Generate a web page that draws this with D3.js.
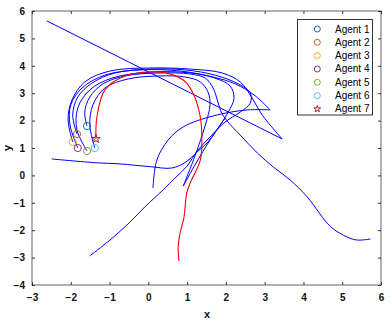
<!DOCTYPE html>
<html><head><meta charset="utf-8">
<script src="https://cdn.jsdelivr.net/npm/d3@7"></script>
<style>
html,body{margin:0;padding:0;background:#fff;}
svg{display:block;font-family:"Liberation Sans",Arial,sans-serif;}
</style></head>
<body><svg id="c" width="392" height="325"></svg>
<script>
// ---- data (x, y in data units) ----
const agentNames = ["Agent 1","Agent 2","Agent 3","Agent 4","Agent 5","Agent 6","Agent 7"];
const markerColors = ["#0072BD","#D95319","#EDB120","#7E2F8E","#77AC30","#4DBEEE","#A2142F"];
const xTicks = [-3,-2,-1,0,1,2,3,4,5,6];
const yTicks = [-4,-3,-2,-1,0,1,2,3,4,5,6];

// start positions (markers)
const startX = [-1.58,-1.84,-1.95,-1.82,-1.58,-1.38,-1.35];
const startY = [ 1.80, 1.51, 1.22, 1.00, 0.89, 1.00, 1.33];

// trajectories: arrays of segments (split at sharp turns), each [x,y]
const traj1 = [[[-1.58,1.80],[-1.64,2.31],[-1.51,2.86],[-1.17,3.34],[-0.60,3.63],[0.30,3.74],[1.08,3.70],[1.47,3.55],[1.67,3.19],[1.78,2.75],[1.88,2.31],[2.03,1.99],[2.37,1.47],[2.81,0.82],[3.22,0.31],[3.66,-0.17],[4.10,-0.79],[4.70,-1.87],[5.13,-2.25],[5.39,-2.36],[5.73,-2.32]]];
const traj2 = [[[-1.84,1.51],[-1.95,2.20],[-1.82,2.86],[-1.45,3.37],[-0.86,3.74],[0.04,3.88],[0.95,3.85],[1.72,3.66],[2.32,3.34],[2.63,3.01],[2.63,2.64],[2.37,2.31],[1.98,1.95],[1.59,1.40],[1.26,0.89],[1.00,0.34],[0.69,-0.09],[0.38,-0.53],[-0.09,-1.15],[-0.47,-1.70],[-0.99,-2.36],[-1.51,-2.94]]];
const traj3 = [[[-1.95,1.22],[-2.07,2.02],[-1.97,2.75],[-1.64,3.41],[-0.99,3.81],[0.04,3.92],[1.08,3.88],[1.90,3.74],[2.37,3.41],[2.63,2.93],[2.94,2.20],[3.45,1.33]],
               [[3.45,1.33],[-2.62,5.64]]];
const traj4 = [[[-1.82,1.00],[-2.02,1.84],[-2.00,2.57],[-1.71,3.19],[-1.12,3.66],[-0.21,3.85],[0.82,3.81],[1.67,3.59],[2.24,3.34],[2.76,2.90],[3.14,2.39]],
               [[3.14,2.39],[2.55,2.39],[1.67,2.17],[0.90,1.77],[0.51,1.29],[0.22,0.56],[0.12,-0.46]]];
const traj5 = [[[-1.58,0.89],[-1.84,1.66],[-1.82,2.46],[-1.51,3.12],[-0.94,3.55],[0.04,3.77],[1.08,3.74],[1.72,3.55],[2.11,3.26],[2.21,2.82],[2.06,2.31],[1.80,1.73],[1.54,1.22],[1.23,0.82],[0.97,0.49],[0.61,0.27],[0.04,0.32],[-0.73,0.42],[-1.33,0.46],[-2.49,0.60]]];
const traj6 = [[[-1.38,1.00],[-1.51,1.84],[-1.43,2.57],[-1.12,3.19],[-0.52,3.52],[0.30,3.63],[0.95,3.59],[1.34,3.41],[1.54,3.04],[1.59,2.57],[1.47,1.84],[1.21,0.74],[0.90,-0.39]],
               [[0.90,-0.39],[1.23,0.45],[1.59,1.29],[1.98,2.09]]];
const traj7 = [[[-1.35,1.33],[-1.33,2.09],[-1.12,3.12],[-0.60,3.63],[0.30,3.77],[0.90,3.48],[1.15,3.01],[1.34,2.13],[1.38,1.18],[1.34,0.56],[1.08,-0.28],[0.99,-0.64],[0.92,-1.52],[0.82,-2.10],[0.77,-2.61],[0.79,-3.12]]];
const blueTrajs = [traj1,traj2,traj3,traj4,traj5,traj6];
const redTrajs = [traj7];

// ---- drawing ----
const svg = d3.select("#c");
const L=32, R=381, T=11, B=285;
const x = d3.scaleLinear().domain([-3,6]).range([L,R]);
const y = d3.scaleLinear().domain([-4,6]).range([B,T]);

const line = d3.line().x(d=>x(d[0])).y(d=>y(d[1])).curve(d3.curveCatmullRom.alpha(0.5));
const straight = d3.line().x(d=>x(d[0])).y(d=>y(d[1]));

const gPlot = svg.append("g");
blueTrajs.forEach(t=>t.forEach(seg=>{
  gPlot.append("path").attr("d",(seg.length>2?line:straight)(seg))
    .attr("fill","none").attr("stroke","#0000FF").attr("stroke-width",1);
}));
redTrajs.forEach(t=>t.forEach(seg=>{
  gPlot.append("path").attr("d",line(seg))
    .attr("fill","none").attr("stroke","#FF0000").attr("stroke-width",1.1);
}));

// markers
const star = d3.symbol().type(d3.symbolStar);
startX.forEach((sx,i)=>{
  if(i<6){
    gPlot.append("circle").attr("cx",x(sx)).attr("cy",y(startY[i])).attr("r",3.6)
      .attr("fill","none").attr("stroke",markerColors[i]).attr("stroke-width",1);
  } else {
    gPlot.append("path").attr("d",star.size(22)())
      .attr("transform",`translate(${x(sx)},${y(startY[i])})`)
      .attr("fill","none").attr("stroke",markerColors[i]).attr("stroke-width",1);
  }
});

// axes box and ticks
const axCol="#7f7f7f";
svg.append("rect").attr("x",L).attr("y",T).attr("width",R-L).attr("height",B-T)
  .attr("fill","none").attr("stroke",axCol).attr("stroke-width",1.2);
const gx = svg.append("g").attr("transform",`translate(0,${B})`)
  .call(d3.axisBottom(x).tickValues(xTicks).tickSizeInner(-3).tickSizeOuter(0).tickPadding(9));
const gxt = svg.append("g").attr("transform",`translate(0,${T})`)
  .call(d3.axisTop(x).tickValues(xTicks).tickSizeInner(-3).tickSizeOuter(0).tickFormat(""));
const gy = svg.append("g").attr("transform",`translate(${L},0)`)
  .call(d3.axisLeft(y).tickValues(yTicks).tickSizeInner(-3).tickSizeOuter(0).tickPadding(7));
const gyr = svg.append("g").attr("transform",`translate(${R},0)`)
  .call(d3.axisRight(y).tickValues(yTicks).tickSizeInner(-3).tickSizeOuter(0).tickFormat(""));
[gx,gxt,gy,gyr].forEach(g=>{
  g.select(".domain").remove();
  g.selectAll(".tick line").attr("stroke","#333");
  g.selectAll("text").attr("fill","#111").style("font-size","10px").style("font-weight","bold")
    .style("font-family","'Liberation Sans',Arial,sans-serif");
});

// axis labels
svg.append("text").attr("x",(L+R)/2+0.5).attr("y",318).attr("text-anchor","middle")
  .style("font-size","11px").style("font-weight","bold").attr("fill","#111").text("x");
svg.append("text").attr("transform",`translate(11,${(T+B)/2}) rotate(-90)`).attr("text-anchor","middle")
  .style("font-size","11px").style("font-weight","bold").attr("fill","#111").text("y");

// legend
const lg = svg.append("g");
lg.append("rect").attr("x",297.5).attr("y",19.5).attr("width",75).attr("height",95.5)
  .attr("fill","#fff").attr("stroke","#333").attr("stroke-width",1);
agentNames.forEach((n,i)=>{
  const cy = 29 + i*13.33;
  if(i<6){
    lg.append("circle").attr("cx",317.3).attr("cy",cy).attr("r",3)
      .attr("fill","none").attr("stroke",markerColors[i]).attr("stroke-width",1);
  } else {
    lg.append("path").attr("d",star.size(14)()).attr("transform",`translate(317.3,${cy})`)
      .attr("fill","none").attr("stroke",markerColors[i]).attr("stroke-width",1);
  }
  lg.append("text").attr("x",335).attr("y",cy+3.5).style("font-size","10px").attr("fill","#000").text(n);
});
</script></body></html>
